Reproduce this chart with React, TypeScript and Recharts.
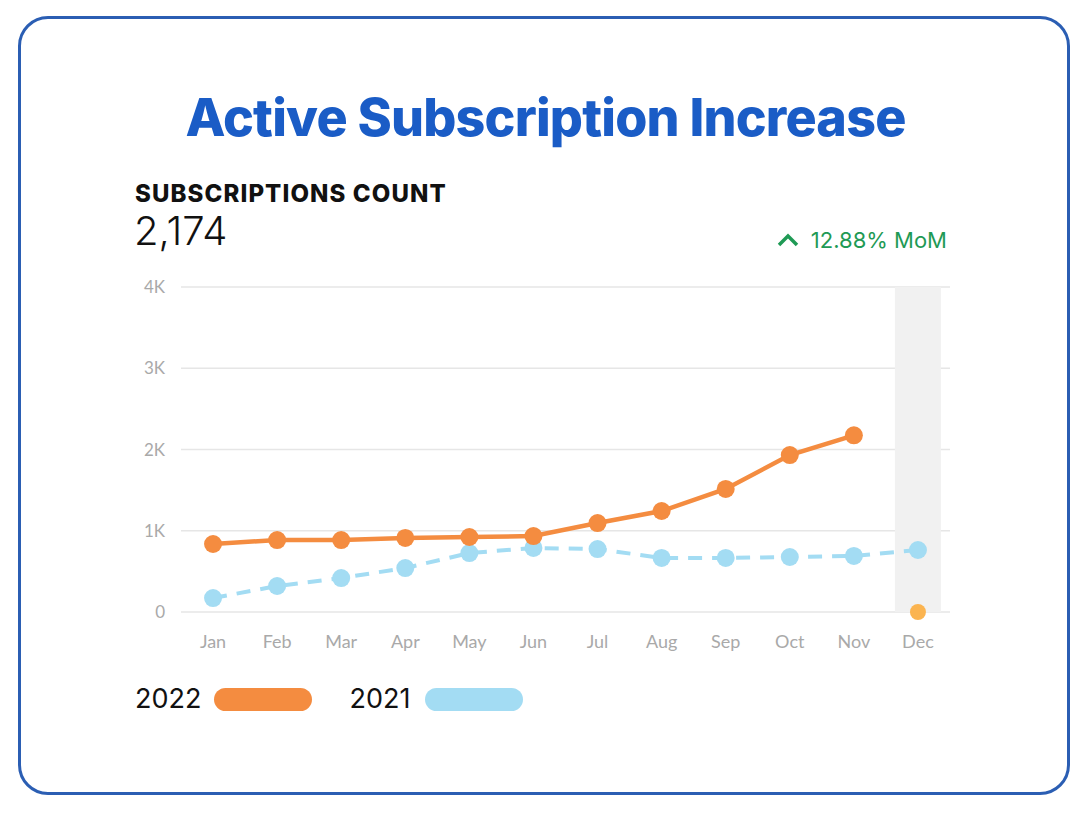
import React from "react";
import { ComposedChart, Line, Bar, XAxis, YAxis, CartesianGrid } from "recharts";

const months = ["Jan", "Feb", "Mar", "Apr", "May", "Jun", "Jul", "Aug", "Sep", "Oct", "Nov", "Dec"];
const values2022: (number | null)[] = [837, 886, 886, 911, 923, 935, 1095, 1243, 1514, 1932, 2174, null];
const values2021: number[] = [172, 320, 418, 541, 726, 788, 775, 665, 665, 677, 690, 763];
const currentMonth2022: (number | null)[] = [null, null, null, null, null, null, null, null, null, null, null, 0];
const highlight: (number | null)[] = [null, null, null, null, null, null, null, null, null, null, null, 4000];
const yTicks = [0, 1000, 2000, 3000, 4000];
const seriesNames = ["2022", "2021"];

const ORANGE = "#f48c40";
const BLUE = "#a3dcf3";
const LIGHT_ORANGE = "#fbb450";

const data = months.map((m, i) => ({
  month: m,
  y2022: values2022[i],
  y2021: values2021[i],
  cur: currentMonth2022[i],
  hl: highlight[i],
}));

const fmtY = (v: number) => (v === 0 ? "0" : `${v / 1000}K`);

export default function App() {
  return (
    <div
      style={{
        position: "absolute",
        left: 0,
        top: 0,
        width: 1085,
        height: 815,
        background: "#fff",
        fontFamily: "Inter, 'Noto Sans', sans-serif",
      }}
    >
      <div
        style={{
          position: "absolute",
          left: 18,
          top: 16,
          width: 1046,
          height: 773,
          border: "3px solid #2b5eb3",
          borderRadius: 30,
        }}
      />
      <div
        style={{
          position: "absolute",
          left: 0,
          width: 1091,
          top: 88,
          textAlign: "center",
          color: "#1a5cc6",
          fontSize: 52,
          fontWeight: 800,
          letterSpacing: -0.8,
          lineHeight: "60px",
        }}
      >
        Active Subscription Increase
      </div>
      <div
        style={{
          position: "absolute",
          left: 135,
          top: 179,
          fontSize: 24,
          fontWeight: 800,
          color: "#111",
          letterSpacing: 1.1,
          lineHeight: "30px",
        }}
      >
        SUBSCRIPTIONS COUNT
      </div>
      <div
        style={{
          position: "absolute",
          left: 134,
          top: 207,
          fontSize: 40,
          fontWeight: 300,
          color: "#111",
          lineHeight: "48px",
        }}
      >
        2,174
      </div>
      <div
        style={{
          position: "absolute",
          right: 1085 - 947,
          top: 227,
          fontSize: 22,
          color: "#1f9a55",
          lineHeight: "26px",
          display: "flex",
          alignItems: "center",
        }}
      >
        <svg width="24" height="16" style={{ marginRight: 11 }}>
          <polyline points="3,13 12,4 21,13" fill="none" stroke="#1f9a55" strokeWidth="3.5" />
        </svg>
        12.88% MoM
      </div>

      <div style={{ position: "absolute", left: 120, top: 270 }}>
        <ComposedChart
          width={840}
          height={400}
          data={data}
          margin={{ top: 17, right: 10, bottom: 18, left: 0 }}
          barCategoryGap={0}
        >
          <CartesianGrid vertical={false} stroke="#e6e6e6" strokeWidth={1.5} />
          <XAxis
            dataKey="month"
            axisLine={false}
            tickLine={false}
            tickMargin={17}
            height={40}
            tick={{ fill: "#a9a9a9", fontSize: 18, fontFamily: "Lato, sans-serif" }}
            interval={0}
          />
          <YAxis
            width={61}
            domain={[0, 4000]}
            ticks={yTicks}
            axisLine={false}
            tickLine={false}
            tickMargin={10}
            tickFormatter={fmtY}
            tick={{ fill: "#a9a9a9", fontSize: 17, fontFamily: "Lato, sans-serif" }}
          />
          <Bar dataKey="hl" fill="#f1f1f1" barSize={46} isAnimationActive={false} />
          <Line
            dataKey="y2021"
            stroke={BLUE}
            strokeWidth={4}
            strokeDasharray="14 10"
            dot={{ r: 9, fill: BLUE, stroke: "none" }}
            activeDot={false}
            isAnimationActive={false}
          />
          <Line
            dataKey="y2022"
            stroke={ORANGE}
            strokeWidth={4.5}
            dot={{ r: 9, fill: ORANGE, stroke: "none" }}
            activeDot={false}
            connectNulls={false}
            isAnimationActive={false}
          />
          <Line
            dataKey="cur"
            stroke="none"
            dot={{ r: 8, fill: LIGHT_ORANGE, stroke: "none" }}
            activeDot={false}
            isAnimationActive={false}
          />
        </ComposedChart>
      </div>

      <div
        style={{
          position: "absolute",
          left: 135,
          top: 683,
          display: "flex",
          alignItems: "center",
          fontSize: 27,
          color: "#111",
          lineHeight: "32px",
        }}
      >
        <span>{seriesNames[0]}</span>
        <span
          style={{
            display: "inline-block",
            width: 98,
            height: 23,
            borderRadius: 12,
            background: ORANGE,
            marginLeft: 13,
            marginRight: 37,
          }}
        />
        <span>{seriesNames[1]}</span>
        <span
          style={{
            display: "inline-block",
            width: 98,
            height: 23,
            borderRadius: 12,
            background: BLUE,
            marginLeft: 15,
          }}
        />
      </div>
    </div>
  );
}
